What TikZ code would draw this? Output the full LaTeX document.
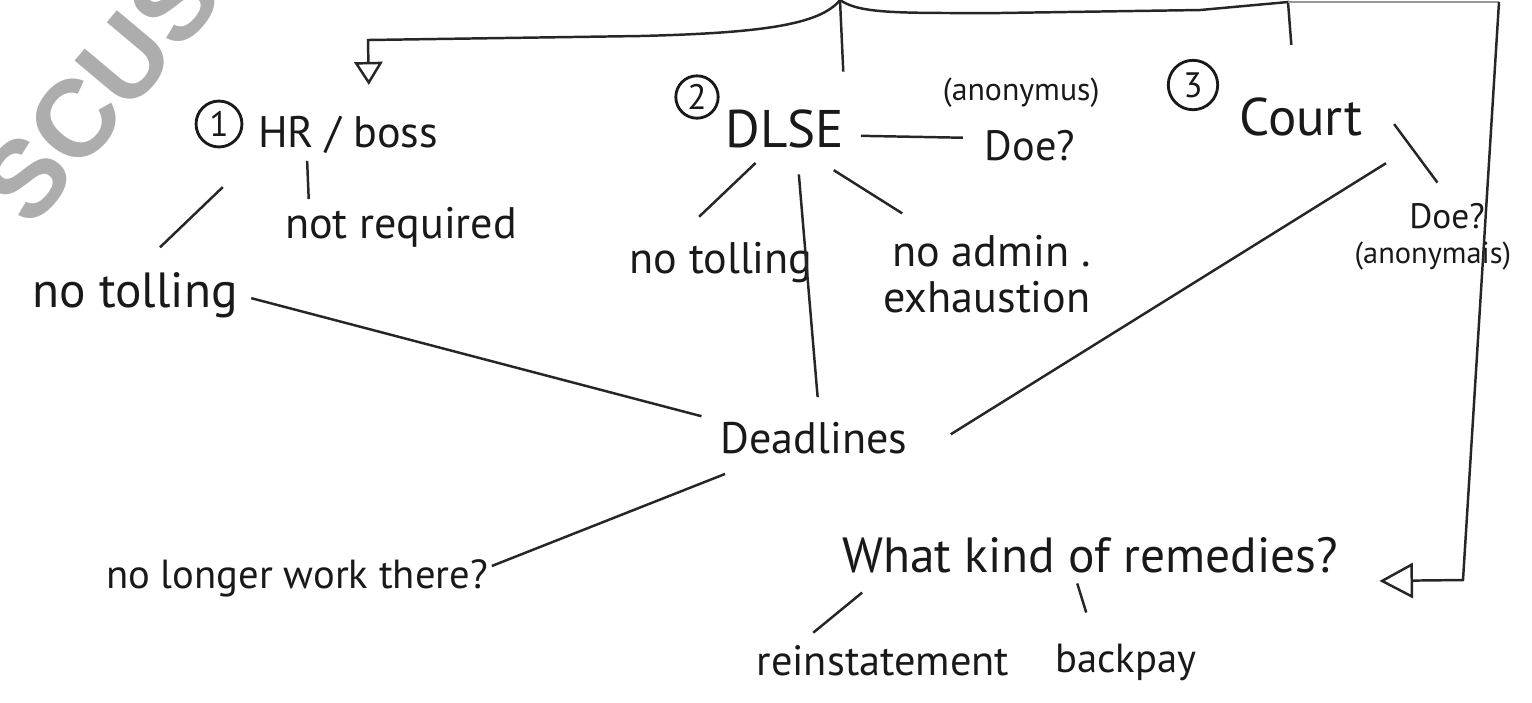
\documentclass[tikz,border=0pt]{standalone}
\usepackage{fontspec}
\setmainfont{PT Sans}
\newfontfamily\markfont{Liberation Sans}
\usetikzlibrary{
  positioning,
  arrows.meta
}
\tikzset{
  every node/.style={inner sep=0pt, text=black!90},
  idea/.style={font=\fontsize{12.5}{15}\selectfont},
  topic/.style={font=\fontsize{15}{18}\selectfont},
  aside/.style={font=\fontsize{9}{11}\selectfont},
  num/.style={circle, draw=black!90, line width=0.8pt, minimum size=13pt, font=\fontsize{10}{12}\selectfont},
  link/.style={draw=black!85, line width=0.7pt},
  opentip/.style={-{Triangle[open, length=6.5pt, width=8pt]}},
  bigtip/.style={-{Triangle[open, length=9.5pt, width=10pt]}}
}

\begin{document}
\begin{tikzpicture}[x=0.2832pt, y=-0.2832pt]
  \useasboundingbox (0,0) rectangle (1532,702);
  \node[rotate=50, text=black!32, font=\markfont\bfseries\fontsize{31}{33}\selectfont] (mark) at (100,90) {SCUS};

  \node[num] (one) at (219,124) {1};
  \node[idea, anchor=base] (hr) at (348,147) {HR / boss};
  \node[idea, anchor=base] (notreq) at (401,238) {not required};
  \node[font=\fontsize{14}{17}\selectfont, anchor=base] (tollA) at (135,307) {no tolling};
  \node[num, minimum size=12pt] (two) at (697,97) {2};
  \node[topic, anchor=base] (dlse) at (785,147) {DLSE};
  \node[font=\fontsize{12}{14}\selectfont, anchor=base] (doeA) at (1030,160) {Doe?};
  \node[aside, above=6pt of doeA, xshift=-2.5pt] (anonA) {(anonymus)};
  \node[num, minimum size=14pt] (three) at (1193,85) {3};
  \node[topic, anchor=base] (court) at (1301,135) {Court};
  \node[idea, anchor=base] (tollB) at (721,273) {no tolling};
  \node[font=\fontsize{12.5}{13}\selectfont, align=right] (admin) at (987,274) {no admin .\\exhaustion};
  \node[font=\fontsize{10}{12}\selectfont, anchor=base] (doeB) at (1447,228) {Doe?};
  \node[font=\fontsize{8.6}{10}\selectfont, below=3.4pt of doeB, xshift=-4pt] (anonB) {(anonymais)};
  \node[idea, anchor=base] (dead) at (814,453) {Deadlines};
  \node[font=\fontsize{11.5}{14}\selectfont, anchor=base] (gone) at (297,588) {no longer work there?};
  \node[font=\fontsize{14}{17}\selectfont, anchor=base] (remedy) at (1090,572) {What kind of remedies?};
  \node[font=\fontsize{12}{14}\selectfont, anchor=base] (reinst) at (883,675) {reinstatement};
  \node[font=\fontsize{11.5}{14}\selectfont, anchor=base] (backpay) at (1126,672) {backpay};

  \coordinate (top) at (840,0);
  \draw[link, opentip, shorten >=8.5pt] (top) .. controls (820,25) and (760,33) .. (640,36) -- (368,40) -- ([xshift=31.7pt]hr.north west);
  \draw[link, shorten >=10.5pt] (top) -- (dlse.north east);
  \draw[link, shorten >=14.7pt] (top) .. controls (860,14) and (900,13) .. (1000,13) -- (1200,10) -- (1288,2) coordinate (fork) -- ([xshift=16pt]court.north west);
  \draw[draw=black!40, line width=0.7pt] (fork) -- (1499,2) coordinate (corner);
  \draw[link, bigtip, shorten >=11.6pt] (corner) -- (1463,580) -- ([yshift=-2.3pt]remedy.south east);

  \draw[link, shorten <=13.6pt, shorten >=9.8pt] (hr.south west) -- (tollA.north);
  \draw[link, shorten <=2pt, shorten >=2pt] ([xshift=14pt]hr.south west) -- ([xshift=7pt]notreq.north west);
  \draw[link, shorten <=3.8pt, shorten >=5.4pt] (tollA.east) -- (dead.north west);
  \draw[link, shorten <=6pt, shorten >=10pt] ([xshift=13pt]dlse.south west) -- ([xshift=12.7pt]tollB.north west);
  \draw[link, shorten <=7.4pt, shorten >=6.8pt] ([xshift=3.3pt]dlse.south) -- ([xshift=1.6pt]dead.north);
  \draw[link, shorten <=11.6pt, shorten >=11.2pt] ([xshift=4pt]dlse.south) -- ([xshift=15pt]admin.north west);
  \draw[link, shorten <=4.5pt, shorten >=6pt] ([yshift=-2pt]dlse.east) -- ([yshift=2pt]doeA.west);
  \draw[link, shorten <=9.7pt, shorten >=6.9pt] ([xshift=3pt]court.north east) -- ([xshift=1.4pt]doeB.north);
  \draw[link, shorten <=14.4pt, shorten >=10.7pt] ([xshift=18.7pt]court.south east) -- ([xshift=3pt]dead.south east);
  \draw[link, shorten <=15.2pt, shorten >=1pt] ([xshift=15.6pt]dead.south west) -- ([yshift=3pt]gone.east);
  \draw[link, shorten <=8.6pt, shorten >=5.2pt] ([xshift=12.5pt]remedy.south west) -- ([xshift=12.2pt]reinst.north west);
  \draw[link, shorten <=3pt, shorten >=9pt] ([xshift=-4.5pt]remedy.south) -- ([xshift=-8.6pt]backpay.north);
\end{tikzpicture}
\end{document}
